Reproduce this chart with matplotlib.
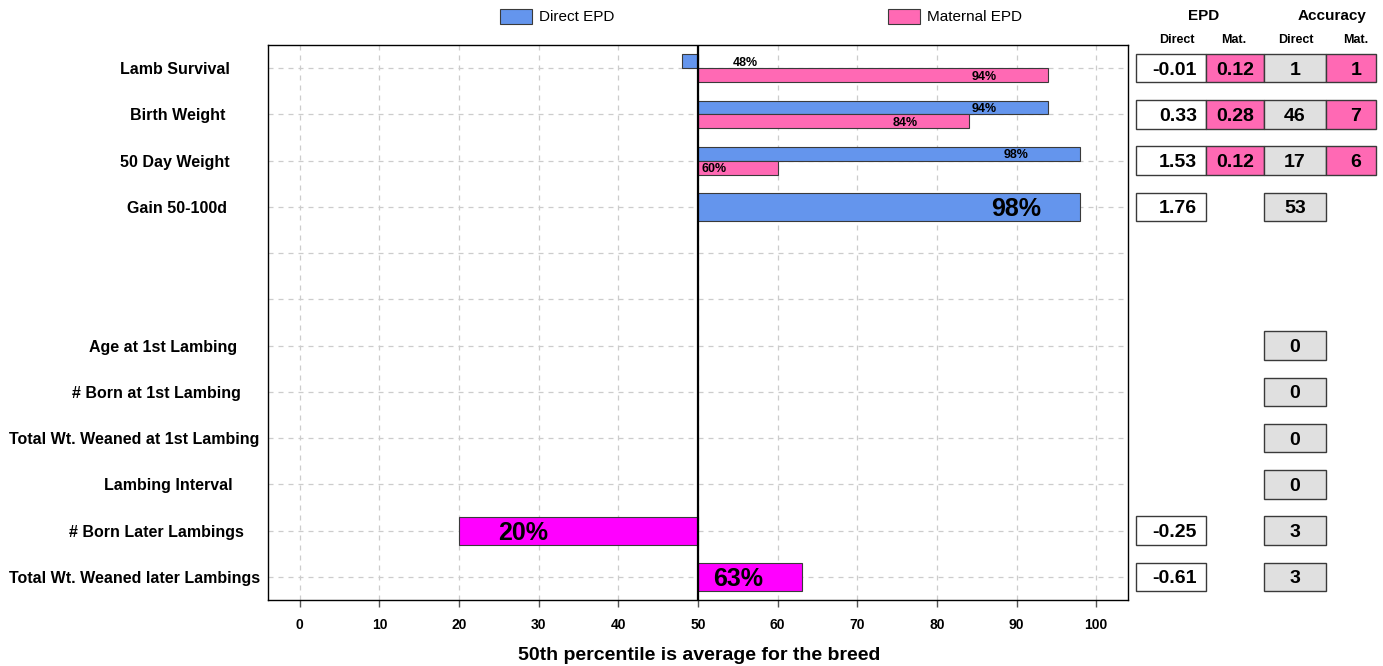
import matplotlib
matplotlib.use("Agg")
import matplotlib.pyplot as plt
from matplotlib.patches import Rectangle
import matplotlib.transforms as mtransforms
import numpy as np

plt.rcParams['font.family'] = ['Liberation Sans', 'DejaVu Sans']

# ---- data ----
traits = ["Lamb Survival", "Birth Weight", "50 Day Weight", "Gain 50-100d", "", "",
          "Age at 1st Lambing", "# Born at 1st Lambing", "Total Wt. Weaned at 1st Lambing",
          "Lambing Interval", "# Born Later Lambings", "Total Wt. Weaned later Lambings"]

# growth traits (rows 0-3): percentile ranks
direct_pct = [48, 94, 98, 98]
maternal_pct = [94, 84, 60, np.nan]
epd_direct = [-0.01, 0.33, 1.53, 1.76]
epd_mat = [0.12, 0.28, 0.12, np.nan]
acc_direct = [1, 46, 17, 53]
acc_mat = [1, 7, 6, np.nan]

# reproduction traits (rows 6-11)
repro_pct = [np.nan, np.nan, np.nan, np.nan, 20, 63]
repro_epd = [np.nan, np.nan, np.nan, np.nan, -0.25, -0.61]
repro_acc = [0, 0, 0, 0, 3, 3]

# ---- layout / style ----
C_DIRECT = "#6495ED"
C_MAT = "#FF69B4"
C_REPRO = "#FF00FF"
C_GREY = "#E0E0E0"
EDGE = "#3A3A3A"

W, H = 1383, 666
fig = plt.figure(figsize=(W / 100, H / 100), dpi=100)

def fx(px):
    return px / W

def fy(py):
    return 1 - py / H

ax = fig.add_axes([fx(268), fy(600), fx(1128) - fx(268), fy(45) - fy(600)])
ax.set_xlim(-4, 104)
ax.set_ylim(11.5, -0.5)

g_rows = np.arange(len(direct_pct))
r_rows = np.arange(len(repro_pct)) + 6
paired = ~np.isnan(maternal_pct)

def label_x(v):
    return v - 8 if v > 50 else v + 8

# paired bars: direct above, maternal below
for r, d, m, p in zip(g_rows, direct_pct, maternal_pct, paired):
    if p:
        ax.barh(r - 0.15, d - 50, left=50, height=0.3, color=C_DIRECT,
                edgecolor=EDGE, linewidth=0.8, zorder=2)
        ax.barh(r + 0.15, m - 50, left=50, height=0.3, color=C_MAT,
                edgecolor=EDGE, linewidth=0.8, zorder=2)
        ax.text(label_x(d), r - 0.15, f"{d}%", ha='center', va='center_baseline',
                fontsize=9, fontweight='bold', zorder=4)
        ax.text(label_x(m), r + 0.15, f"{m:g}%", ha='center', va='center_baseline',
                fontsize=9, fontweight='bold', zorder=4)
    else:
        ax.barh(r, d - 50, left=50, height=0.6, color=C_DIRECT,
                edgecolor=EDGE, linewidth=0.8, zorder=2)
        ax.text(label_x(d), r, f"{d}%", ha='center', va='center_baseline',
                fontsize=18, fontweight='bold', zorder=4)

for r, v in zip(r_rows, repro_pct):
    if np.isnan(v):
        continue
    ax.barh(r, v - 50, left=50, height=0.6, color=C_REPRO,
            edgecolor=EDGE, linewidth=0.8, zorder=2)
    ax.text(label_x(v), r, f"{v:g}%", ha='center', va='center_baseline',
            fontsize=18, fontweight='bold', zorder=4)

ax.axvline(50, color='black', linewidth=1.6, zorder=3)

ax.set_xticks(range(0, 101, 10))
ax.set_yticks(range(12))
ax.set_yticklabels([])
ax.grid(True, color='#CCCCCC', linestyle=(0, (4, 4)), linewidth=0.9)
ax.set_axisbelow(True)
ax.tick_params(axis='y', length=0)
ax.tick_params(axis='x', length=5, width=1, color='#555555', pad=8, labelsize=10)
for lab in ax.get_xticklabels():
    lab.set_fontweight('bold')
for s in ax.spines.values():
    s.set_color('black')
    s.set_linewidth(1)

# row labels (centre positions in pixels, matching the original)
label_centres = [174.5, 177.5, 174.5, 177, 0, 0, 163, 156.5, 134, 168, 156.5, 134.5]
trans = mtransforms.blended_transform_factory(fig.transFigure, ax.transData)
for r, (t, c) in enumerate(zip(traits, label_centres)):
    if t:
        fig.text(fx(c), r, t, transform=trans, ha='center', va='center_baseline',
                 fontsize=11.5, fontweight='bold')

fig.text(fx(699), fy(656), "50th percentile is average for the breed",
         ha='center', va='center', fontsize=14, fontweight='bold')

# legend
for x0, col, name in [(500, C_DIRECT, "Direct EPD"), (888, C_MAT, "Maternal EPD")]:
    fig.add_artist(Rectangle((fx(x0), fy(24)), fx(32), fy(9) - fy(24),
                             transform=fig.transFigure, facecolor=col,
                             edgecolor=EDGE, linewidth=0.8))
    fig.text(fx(x0 + 39), fy(17), name, ha='left', va='center', fontsize=11)

# ---- table on the right ----
tx = fig.add_axes([fx(1130), fy(600), fx(1383) - fx(1130), fy(45) - fy(600)])
tx.set_xlim(1130, 1383)
tx.set_ylim(11.5, -0.5)
tx.axis('off')

edges = [1136, 1206, 1264, 1326, 1376]
bh = 0.62

def cell(col, row, face, text, ha='center', tx_x=None):
    tx.add_patch(Rectangle((edges[col], row - bh / 2), edges[col + 1] - edges[col], bh,
                           facecolor=face, edgecolor=EDGE, linewidth=1, clip_on=False))
    if tx_x is None:
        tx_x = (edges[col] + edges[col + 1]) / 2
    tx.text(tx_x, row, text, ha=ha, va='center_baseline', fontsize=14, fontweight='bold')

for r, e, em, a, am in zip(g_rows, epd_direct, epd_mat, acc_direct, acc_mat):
    cell(0, r, 'white', f"{e:.2f}", ha='right', tx_x=1197)
    if not np.isnan(em):
        cell(1, r, C_MAT, f"{em:.2f}")
    cell(2, r, C_GREY, f"{a}")
    if not np.isnan(am):
        cell(3, r, C_MAT, f"{am:g}", tx_x=1356)

for r, e, a in zip(r_rows, repro_epd, repro_acc):
    if not np.isnan(e):
        cell(0, r, 'white', f"{e:.2f}", ha='right', tx_x=1197)
    cell(2, r, C_GREY, f"{a}")

fig.text(fx(1204), fy(16), "EPD", ha='center', va='center', fontsize=11, fontweight='bold')
fig.text(fx(1332), fy(16), "Accuracy", ha='center', va='center', fontsize=11, fontweight='bold')
for xc, t in [(1177, "Direct"), (1234, "Mat."), (1296, "Direct"), (1356, "Mat.")]:
    fig.text(fx(xc), fy(40), t, ha='center', va='center', fontsize=9, fontweight='bold')

fig.savefig("out.png", dpi=100)
